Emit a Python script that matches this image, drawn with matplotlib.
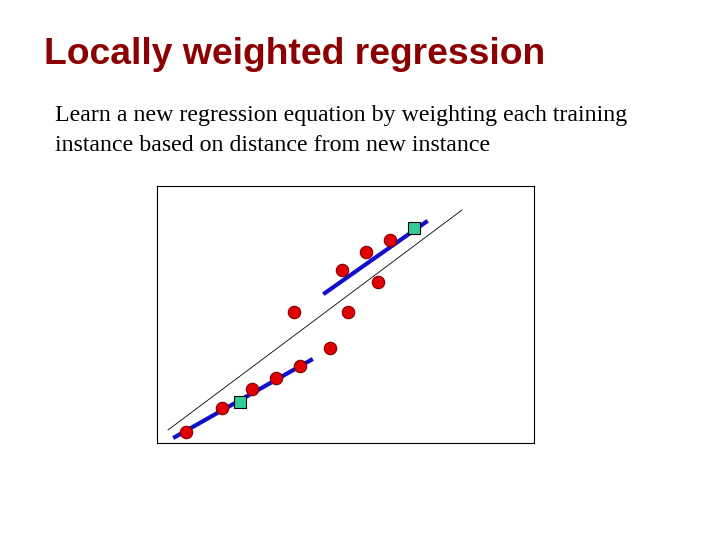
import matplotlib
matplotlib.use("Agg")
from matplotlib import pyplot as plt

# training points (red circles), in axis units
pts_x = [29, 65, 95, 119, 143, 173, 137, 191, 221, 185, 209, 233]
pts_y = [11, 35, 54, 65, 77, 95, 131, 131, 161, 173, 191, 203]
# query instances (green squares)
query_x = [83, 257]
query_y = [41, 215]
# global regression line
glob_x = [11, 305]
glob_y = [13, 233]
# local fits around each query
loc1_x = [18, 154]
loc1_y = [6, 83]
loc2_x = [168, 269]
loc2_y = [150, 221]

fig = plt.figure(figsize=(7.2, 5.4), dpi=100)
fig.text(44/720, 1 - 55/540, "Locally weighted regression", fontsize=26.8, fontweight="bold",
         color="#8b0000", family="Liberation Sans", va="center")
fig.text(55/720, 1 - 116/540, "Learn a new regression equation by weighting each training",
         fontsize=17.2, family="Liberation Serif", va="center")
fig.text(55/720, 1 - 145/540, "instance based on distance from new instance",
         fontsize=17.2, family="Liberation Serif", va="center")

ax = fig.add_axes([157/720, 97/540, 377/720, 257/540])
ax.plot(glob_x, glob_y, color="black", linewidth=0.6)
ax.plot(loc1_x, loc1_y, color="#1010cc", linewidth=3)
ax.plot(loc2_x, loc2_y, color="#1010cc", linewidth=3)
ax.scatter(pts_x, pts_y, s=80, color="#e00000", edgecolors="#800000", linewidths=0.8, zorder=3)
ax.scatter(query_x, query_y, s=80, marker="s", color="#33cc99", edgecolors="black", linewidths=0.8, zorder=4)
ax.set_xlim(0, 377)
ax.set_ylim(0, 257)
ax.set_xticks([])
ax.set_yticks([])
for s in ax.spines.values():
    s.set_linewidth(0.8)

fig.savefig("out.png")
